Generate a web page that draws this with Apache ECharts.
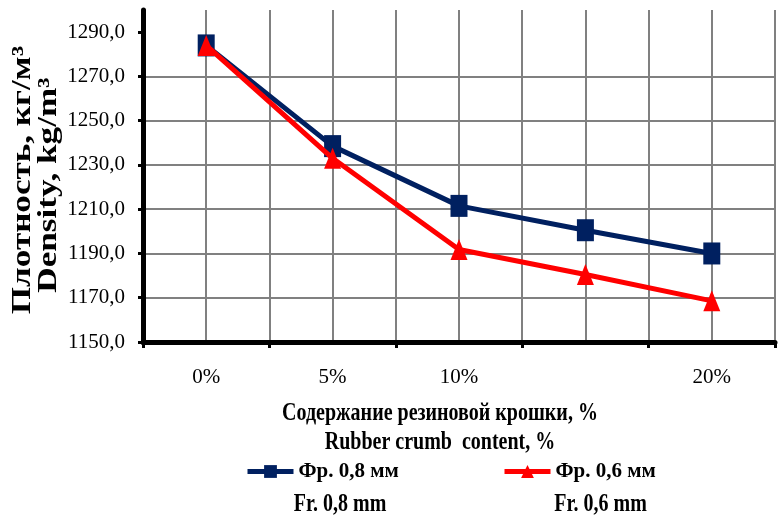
<!DOCTYPE html>
<html>
<head>
<meta charset="utf-8">
<script src="https://cdn.jsdelivr.net/npm/echarts@6/dist/echarts.min.js"></script>
<style>
html,body{margin:0;padding:0;background:#fff;}
#chart{width:779px;height:515px;}
</style>
</head>
<body>
<div id="chart"></div>
<script>
// ---- data ----
var categories = ['0%', '5%', '10%', '', '20%'];
var seriesNames = ['Фр. 0,8 мм', 'Фр. 0,6 мм'];
var seriesNamesEn = ['Fr. 0,8 mm', 'Fr. 0,6 mm'];
var fr08 = [1284, 1238.5, 1211.5, 1200.5, 1190];
var fr06 = [1284, 1233, 1191.8, 1180.5, 1168.6];
var yTicks = [1150, 1170, 1190, 1210, 1230, 1250, 1270, 1290];
var xTitle = ['Содержание резиновой крошки, %', 'Rubber crumb  content, %'];
var yTitle = ['Плотность, кг/м³', 'Density, kg/m³'];

var SERIF = '"Liberation Serif", "Times New Roman", serif';
var BLUE = '#002060', RED = '#FF0000', GRID = '#808080';

var chart = echarts.init(document.getElementById('chart'), null, {renderer: 'canvas'});

var halfSlots = [];
for (var i = 0; i < categories.length * 2; i++) halfSlots.push('');

function fmt(v) { return Number(v).toFixed(1).replace('.', ','); }

var legendText = {fontSize: 21, fontWeight: 'bold', fontFamily: SERIF, color: '#000'};

var option = {
  backgroundColor: '#ffffff',
  animation: false,
  grid: {left: 143, right: 4, top: 10, bottom: 173, containLabel: false},
  xAxis: [
    {
      type: 'category', data: categories, boundaryGap: true, position: 'bottom',
      axisLine: {show: true, lineStyle: {color: '#000', width: 5}},
      axisTick: {show: true, length: 6, lineStyle: {color: '#000', width: 3}},
      axisLabel: {show: true, fontSize: 21, fontFamily: SERIF, color: '#000', margin: 25, interval: 0},
      splitLine: {show: false}
    },
    {
      type: 'category', data: halfSlots, boundaryGap: true, position: 'top',
      axisLine: {show: false}, axisTick: {show: false}, axisLabel: {show: false},
      splitLine: {show: true, lineStyle: {color: GRID, width: 2}}
    }
  ],
  yAxis: {
    type: 'value', min: 1150, max: 1300, interval: 20,
    axisLine: {show: true, lineStyle: {color: '#000', width: 5}},
    axisTick: {show: true, length: 5, inside: false, lineStyle: {color: '#000', width: 3}, customValues: yTicks},
    axisLabel: {show: true, fontSize: 21, fontFamily: SERIF, color: '#000', margin: 18, formatter: fmt, customValues: yTicks},
    splitLine: {show: true, showMaxLine: false, showMinLine: false, lineStyle: {color: GRID, width: 2}}
  },
  legend: [
    {
      data: [seriesNames[0]], left: 245, top: 461, padding: 0,
      itemWidth: 46, itemHeight: 16, lineStyle: {width: 5},
      textStyle: legendText
    },
    {
      data: [seriesNames[1]], left: 502, top: 461, padding: 0,
      itemWidth: 46, itemHeight: 16, lineStyle: {width: 5},
      textStyle: legendText
    }
  ],
  series: [
    {
      name: seriesNames[0], type: 'line', data: fr08, xAxisIndex: 0,
      symbol: 'rect', symbolSize: [17, 22],
      lineStyle: {color: BLUE, width: 5}, itemStyle: {color: BLUE},
      z: 3
    },
    {
      name: seriesNames[1], type: 'line', data: fr06, xAxisIndex: 0,
      symbol: 'triangle', symbolSize: [17, 21],
      lineStyle: {color: RED, width: 5}, itemStyle: {color: RED},
      z: 4
    }
  ],
  graphic: [
    {type: 'text', x: 23, y: 180, rotation: Math.PI / 2, scaleX: 1.3,
     style: {text: yTitle[0], font: 'bold 27px ' + SERIF, fill: '#000', align: 'center', verticalAlign: 'middle'}},
    {type: 'text', x: 49, y: 185, rotation: Math.PI / 2, scaleX: 1.3,
     style: {text: yTitle[1], font: 'bold 27px ' + SERIF, fill: '#000', align: 'center', verticalAlign: 'middle'}},
    {type: 'text', x: 440, y: 414, scaleY: 1.25,
     style: {text: xTitle[0], font: 'bold 20px ' + SERIF, fill: '#000', align: 'center', verticalAlign: 'middle'}},
    {type: 'text', x: 440, y: 442.5, scaleY: 1.25,
     style: {text: xTitle[1], font: 'bold 20px ' + SERIF, fill: '#000', align: 'center', verticalAlign: 'middle'}},
    {type: 'text', x: 340, y: 504.5, scaleY: 1.25,
     style: {text: seriesNamesEn[0], font: 'bold 20px ' + SERIF, fill: '#000', align: 'center', verticalAlign: 'middle'}},
    {type: 'text', x: 600.5, y: 504.5, scaleY: 1.25,
     style: {text: seriesNamesEn[1], font: 'bold 20px ' + SERIF, fill: '#000', align: 'center', verticalAlign: 'middle'}}
  ]
};
chart.setOption(option);
</script>
</body>
</html>
